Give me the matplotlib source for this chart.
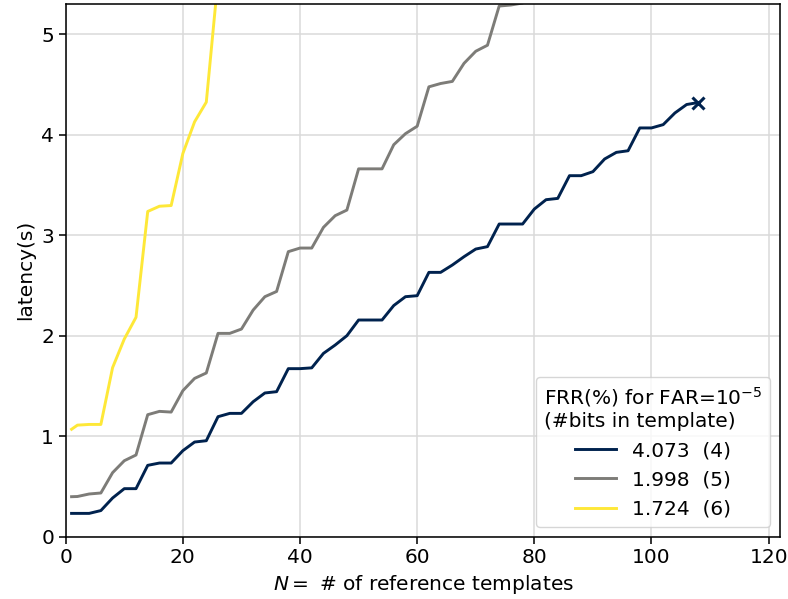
# -*- coding: utf-8 -*-

import matplotlib
matplotlib.use('Agg')
import matplotlib.pyplot as plt


# number of reference templates used for matching
N_4 = [1] + list(range(2, 110, 2))
N_5 = [1] + list(range(2, 82, 2))
N_6 = [1] + list(range(2, 28, 2))

# latency (s) for 4, 5 and 6 bits per template
LAT_4 = [0.232, 0.232, 0.232, 0.26, 0.385, 0.478, 0.478, 0.71, 0.733, 0.733,
         0.856, 0.942, 0.955, 1.194, 1.227, 1.227, 1.343, 1.43, 1.443, 1.672,
         1.672, 1.68, 1.824, 1.907, 2.0, 2.156, 2.156, 2.156, 2.30, 2.388,
         2.398, 2.63, 2.63, 2.703, 2.786, 2.862, 2.886, 3.111, 3.111, 3.111,
         3.26, 3.353, 3.366, 3.592, 3.592, 3.632, 3.758, 3.824, 3.84, 4.067,
         4.067, 4.10, 4.216, 4.30, 4.32]
LAT_5 = [0.398, 0.40, 0.425, 0.435, 0.637, 0.756, 0.813, 1.214, 1.247, 1.24,
         1.453, 1.575, 1.629, 2.023, 2.023, 2.066, 2.255, 2.388, 2.44, 2.836,
         2.872, 2.872, 3.078, 3.194, 3.25, 3.66, 3.66, 3.66, 3.90, 4.01,
         4.084, 4.476, 4.509, 4.53, 4.71, 4.83, 4.89, 5.28, 5.29, 5.31, 5.6]
LAT_6 = [1.069, 1.11, 1.117, 1.117, 1.682, 1.967, 2.183, 3.236, 3.288, 3.295,
         3.813, 4.128, 4.324, 5.55]

FRR = ['4.073', '1.998', '1.724']
BITS = [4, 5, 6]

S = 1.4  # scale of the default sizes
plt.rcParams.update({
    'font.size': 14.5,
    'axes.linewidth': 0.8 * S,
    'xtick.major.size': 3.5 * S,
    'ytick.major.size': 3.5 * S,
    'xtick.major.width': 0.8 * S,
    'ytick.major.width': 0.8 * S,
    'lines.linewidth': 1.5 * S,
})

COLORS = plt.cm.cividis([0.0, 0.5, 1.0])

fig = plt.figure(figsize=(7.88, 5.99), dpi=100)
ax = fig.add_subplot(111)
fig.subplots_adjust(left=0.0834, right=0.9903, bottom=0.104, top=0.9933)

series = [(N_4, LAT_4), (N_5, LAT_5), (N_6, LAT_6)]
for (n, lat), col, frr, bits in zip(series, COLORS, FRR, BITS):
    ax.plot(n, lat, color=col, label='%s  (%d)' % (frr, bits))

# end of the 4-bit curve
ax.plot(N_4[-1], LAT_4[-1], 'x', color=COLORS[0], ms=9, mew=2.2)

ax.set_xlim(0, 122)
ax.set_ylim(0, 5.3)
ax.set_xticks(range(0, 121, 20))
ax.grid(True, color='#dadada', lw=0.8 * S)
ax.set_axisbelow(True)

ax.set_xlabel(r'$N=$ # of reference templates')
ax.set_ylabel('latency(s)')

ax.legend(loc='lower right',
          title='FRR(%) for FAR=$10^{-5}$\n(#bits in template)')

fig.savefig('out.png', dpi=100)
